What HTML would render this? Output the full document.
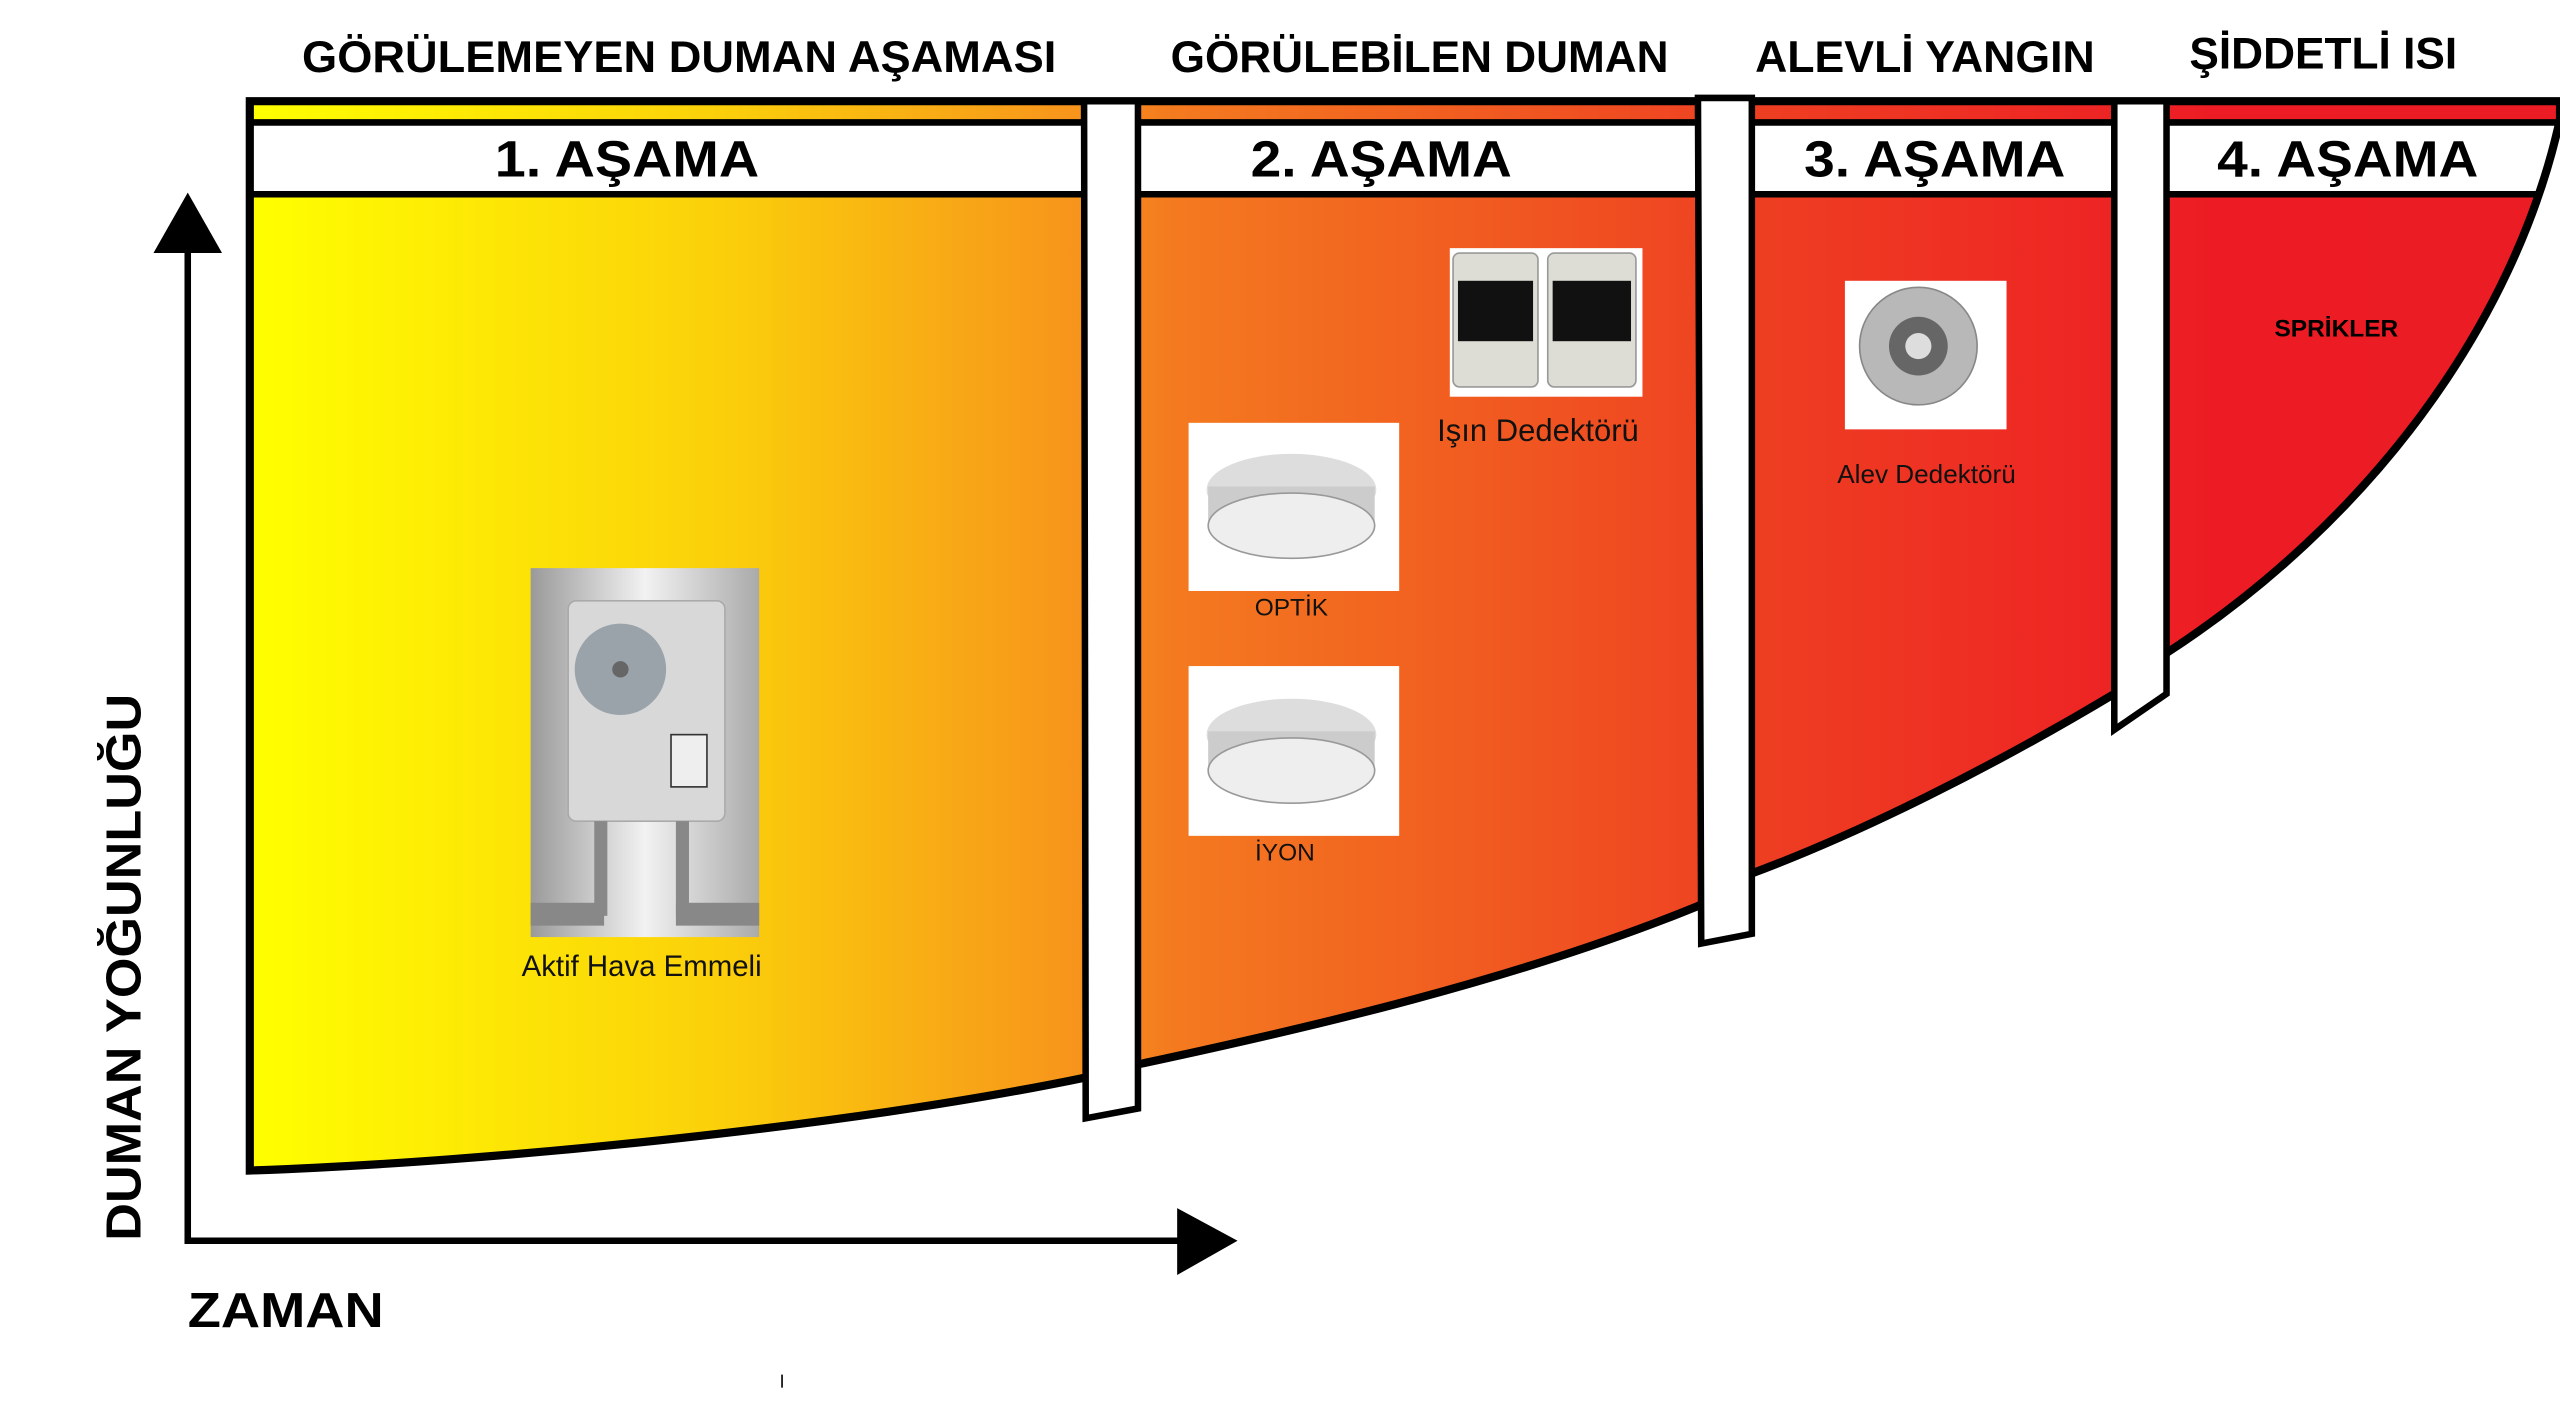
<!DOCTYPE html>
<html><head><meta charset="utf-8"><style>
html,body{margin:0;padding:0;background:#fff;width:2560px;height:1403px;overflow:hidden}
svg{display:block}
.t{font-family:"Liberation Sans",sans-serif;font-weight:bold;fill:#000}
.l{font-family:"Liberation Sans",sans-serif;fill:#111}
</style></head><body>
<svg width="2560" height="1403" viewBox="0 0 1568 859.4" preserveAspectRatio="none" xmlns="http://www.w3.org/2000/svg">
<defs>
<linearGradient id="g" x1="153" y1="0" x2="1568" y2="0" gradientUnits="userSpaceOnUse">
<stop offset="0" stop-color="#ffff00"/>
<stop offset="0.2" stop-color="#fbd10a"/>
<stop offset="0.36" stop-color="#f7931c"/>
<stop offset="0.4" stop-color="#f47a1f"/>
<stop offset="0.65" stop-color="#ee3f22"/>
<stop offset="0.85" stop-color="#ed1c24"/>
<stop offset="1" stop-color="#ec1c24"/>
</linearGradient>
<clipPath id="c"><path d="M153,62 L1568,62 L1568,73 C1540,200 1450,320 1327,400 L1295,425 C1220,470 1140,510 1073,535 L1040,555 C930,600 800,630 697,652 L665,660 C520,690 300,712 153,717 Z"/></clipPath>
<linearGradient id="gr" x1="0" y1="0" x2="1" y2="0"><stop offset="0" stop-color="#9a9a9a"/><stop offset="0.5" stop-color="#f2f2f2"/><stop offset="1" stop-color="#aaa"/></linearGradient>
</defs>

<text class="t" x="185" y="44" font-size="27" textLength="462" lengthAdjust="spacingAndGlyphs">GÖRÜLEMEYEN DUMAN AŞAMASI</text>
<text class="t" x="717" y="44" font-size="27" textLength="305" lengthAdjust="spacingAndGlyphs">GÖRÜLEBİLEN DUMAN</text>
<text class="t" x="1075" y="44" font-size="27" textLength="208" lengthAdjust="spacingAndGlyphs">ALEVLİ YANGIN</text>
<text class="t" x="1341" y="42" font-size="27" textLength="164" lengthAdjust="spacingAndGlyphs">ŞİDDETLİ ISI</text>

<path d="M153,62 L1568,62 L1568,73 C1540,200 1450,320 1327,400 L1295,425 C1220,470 1140,510 1073,535 L1040,555 C930,600 800,630 697,652 L665,660 C520,690 300,712 153,717 Z" fill="url(#g)"/>
<g clip-path="url(#c)">
<rect x="150" y="76" width="1420" height="42" fill="#fff"/>
<line x1="150" y1="75" x2="1570" y2="75" stroke="#000" stroke-width="4"/>
<line x1="150" y1="119" x2="1570" y2="119" stroke="#000" stroke-width="4"/>
</g>
<path d="M153,62 L1568,62 L1568,73 C1540,200 1450,320 1327,400 L1295,425 C1220,470 1140,510 1073,535 L1040,555 C930,600 800,630 697,652 L665,660 C520,690 300,712 153,717 Z" fill="none" stroke="#000" stroke-width="5"/>

<polygon points="664,62 697,62 697,679 665,685" fill="#fff" stroke="#000" stroke-width="4"/>
<polygon points="1040,60 1073,60 1073,572 1042,578" fill="#fff" stroke="#000" stroke-width="4"/>
<polygon points="1295,62 1327,62 1327,425 1295,447" fill="#fff" stroke="#000" stroke-width="4"/>

<text class="t" x="303" y="108" font-size="31" textLength="162" lengthAdjust="spacingAndGlyphs">1. AŞAMA</text>
<text class="t" x="766" y="108" font-size="31" textLength="160" lengthAdjust="spacingAndGlyphs">2. AŞAMA</text>
<text class="t" x="1105" y="108" font-size="31" textLength="160" lengthAdjust="spacingAndGlyphs">3. AŞAMA</text>
<text class="t" x="1358" y="108" font-size="31" textLength="160" lengthAdjust="spacingAndGlyphs">4. AŞAMA</text>

<line x1="115" y1="150" x2="115" y2="762" stroke="#000" stroke-width="4"/>
<polygon points="115,118 94,155 136,155" fill="#000"/>
<line x1="113" y1="760" x2="725" y2="760" stroke="#000" stroke-width="4"/>
<polygon points="758,760 721,740 721,781" fill="#000"/>
<text class="t" font-size="30" transform="translate(86,760) rotate(-90)" textLength="335" lengthAdjust="spacingAndGlyphs">DUMAN YOĞUNLUĞU</text>
<text class="t" x="115" y="813" font-size="30" textLength="120" lengthAdjust="spacingAndGlyphs">ZAMAN</text>
<line x1="479" y1="842" x2="479" y2="850" stroke="#000" stroke-width="1"/>

<rect x="325" y="348" width="140" height="226" fill="url(#gr)"/>
<rect x="348" y="368" width="96" height="135" rx="5" fill="#d8d8d8" stroke="#aaa"/>
<circle cx="380" cy="410" r="28" fill="#9aa3aa"/>
<circle cx="380" cy="410" r="5" fill="#666"/>
<rect x="411" y="450" width="22" height="32" fill="#eee" stroke="#333"/>
<rect x="364" y="503" width="8" height="58" fill="#888"/><rect x="414" y="503" width="8" height="58" fill="#888"/>
<rect x="325" y="553" width="45" height="14" fill="#888"/><rect x="414" y="553" width="51" height="14" fill="#888"/>
<text class="l" x="393" y="598" font-size="18" text-anchor="middle">Aktif Hava Emmeli</text>

<rect x="728" y="259" width="129" height="103" fill="#fff"/>
<ellipse cx="791" cy="300" rx="52" ry="22" fill="#ddd"/>
<rect x="740" y="298" width="102" height="24" fill="#ccc"/>
<ellipse cx="791" cy="322" rx="51" ry="20" fill="#eee" stroke="#999"/>
<text class="l" x="791" y="377" font-size="15" text-anchor="middle">OPTİK</text>
<rect x="728" y="408" width="129" height="104" fill="#fff"/>
<ellipse cx="791" cy="450" rx="52" ry="22" fill="#ddd"/>
<rect x="740" y="448" width="102" height="24" fill="#ccc"/>
<ellipse cx="791" cy="472" rx="51" ry="20" fill="#eee" stroke="#999"/>
<text class="l" x="787" y="527" font-size="15" text-anchor="middle">İYON</text>

<rect x="888" y="152" width="118" height="91" fill="#fff"/>
<rect x="890" y="155" width="52" height="82" rx="4" fill="#ddddd5" stroke="#999"/>
<rect x="893" y="172" width="46" height="37" fill="#111"/>
<rect x="948" y="155" width="54" height="82" rx="4" fill="#ddddd5" stroke="#999"/>
<rect x="951" y="172" width="48" height="37" fill="#111"/>
<text class="l" x="942" y="270" font-size="19" text-anchor="middle">Işın Dedektörü</text>

<rect x="1130" y="172" width="99" height="91" fill="#fff"/>
<circle cx="1175" cy="212" r="36" fill="#b8b8b8" stroke="#888"/>
<circle cx="1175" cy="212" r="18" fill="#666"/>
<circle cx="1175" cy="212" r="8" fill="#ddd"/>
<text class="l" x="1180" y="296" font-size="16" text-anchor="middle">Alev Dedektörü</text>

<text class="t" x="1431" y="206" font-size="15" text-anchor="middle">SPRİKLER</text>
</svg>
</body></html>
